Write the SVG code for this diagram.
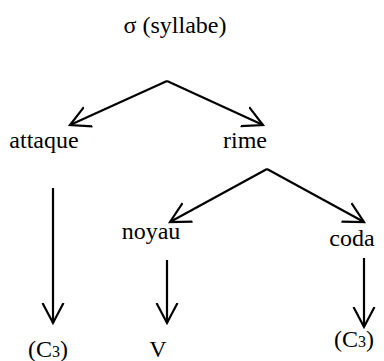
<svg xmlns="http://www.w3.org/2000/svg" width="384" height="361" viewBox="0 0 384 361">
<defs>
<marker id="ah" markerUnits="userSpaceOnUse" markerWidth="40" markerHeight="40" refX="0" refY="0" viewBox="-20 -20 40 40" orient="auto">
<path d="M-20,-10.5 L0,0 L-20,10.5" fill="none" stroke="#000" stroke-width="2.2"/>
</marker>
</defs>
<rect width="384" height="361" fill="#fff"/>
<g id="connectors" stroke="#000" stroke-width="2.2" fill="none">
<line x1="167" y1="81" x2="70" y2="125" marker-end="url(#ah)"/>
<line x1="167" y1="81" x2="263" y2="125" marker-end="url(#ah)"/>
<line x1="267" y1="169" x2="170" y2="222" marker-end="url(#ah)"/>
<line x1="267" y1="169" x2="364" y2="222" marker-end="url(#ah)"/>
<line x1="53" y1="188" x2="53" y2="323" marker-end="url(#ah)"/>
<line x1="167" y1="260" x2="167" y2="323" marker-end="url(#ah)"/>
<line x1="364" y1="258" x2="364" y2="327" marker-end="url(#ah)"/>
</g>
<g id="syllabe"><text x="175" y="33" font-size="24" text-anchor="middle" font-family="'Liberation Serif', serif">σ (syllabe)</text></g>
<g id="attaque"><text x="44" y="148" font-size="24" text-anchor="middle" font-family="'Liberation Serif', serif">attaque</text></g>
<g id="rime"><text x="245" y="148" font-size="24" text-anchor="middle" font-family="'Liberation Serif', serif">rime</text></g>
<g id="noyau"><text x="151" y="239" font-size="24" text-anchor="middle" font-family="'Liberation Serif', serif">noyau</text></g>
<g id="coda"><text x="352" y="246" font-size="24" text-anchor="middle" font-family="'Liberation Serif', serif">coda</text></g>
<g id="c3a"><text x="48" y="357" font-size="24" text-anchor="middle" font-family="'Liberation Serif', serif">(C<tspan font-size="16">3</tspan>)</text></g>
<g id="v"><text x="158" y="357" font-size="24" text-anchor="middle" font-family="'Liberation Serif', serif">V</text></g>
<g id="c3b"><text x="354" y="347" font-size="24" text-anchor="middle" font-family="'Liberation Serif', serif">(C<tspan font-size="16">3</tspan>)</text></g>
</svg>
